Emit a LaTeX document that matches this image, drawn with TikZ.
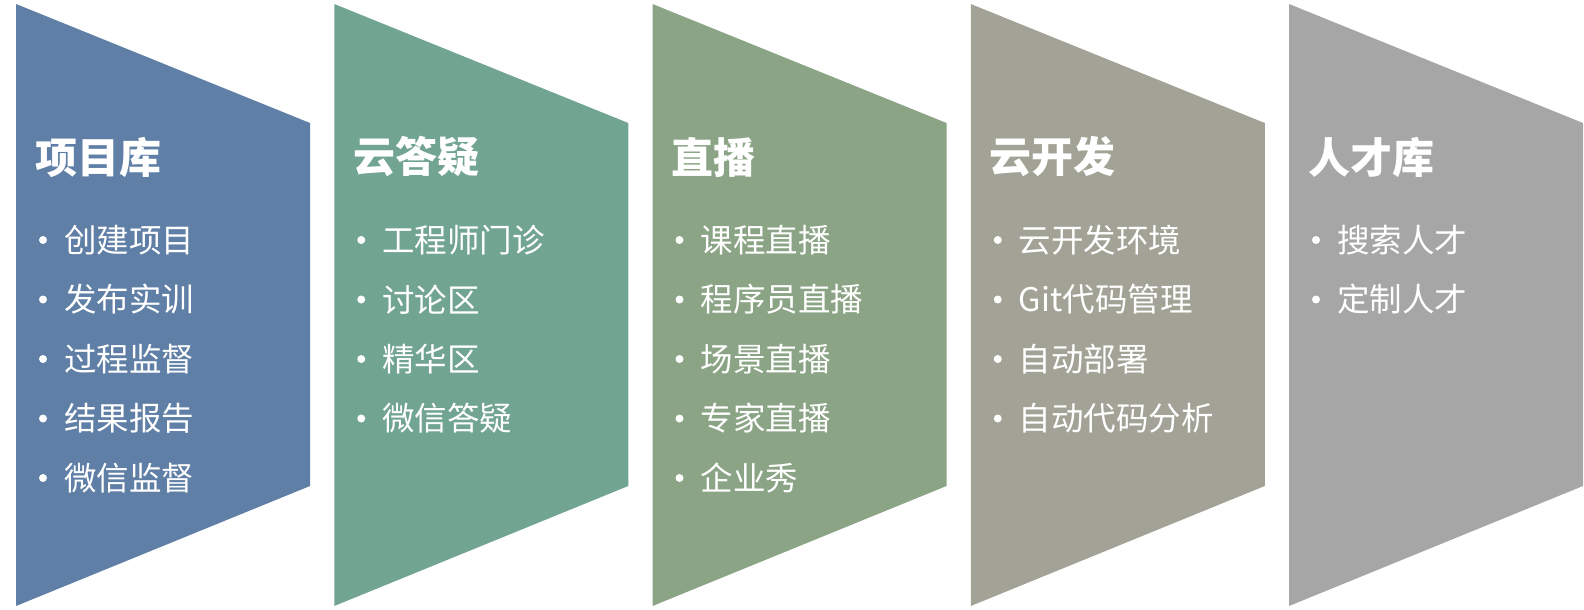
\documentclass[tikz,border=0pt]{standalone}
\usepackage{fontspec}
\setmainfont{Noto Sans CJK SC}
\definecolor{colA}{HTML}{5F7FA6}
\definecolor{colB}{HTML}{72A492}
\definecolor{colC}{HTML}{8BA485}
\definecolor{colD}{HTML}{A2A296}
\definecolor{colE}{HTML}{A6A6A6}
\tikzset{
  title/.style={anchor=west, inner sep=0pt, text=white, font=\fontsize{42}{44}\selectfont\bfseries},
  item/.style={anchor=west, inner sep=0pt, text=white, font=\fontsize{32.5}{34}\selectfont},
  dot/.style={circle, fill=white, inner sep=0pt, minimum size=8pt}
}
\begin{document}
\begin{tikzpicture}[x=1pt, y=-1pt, line join=round]
\def\w{294} \def\pitch{318.25}
\useasboundingbox (0,0) rectangle (1584,610);
\foreach \i/\col/\ttl/\items in {
  0/colA/项目库/{创建项目,发布实训,过程监督,结果报告,微信监督},
  1/colB/云答疑/{工程师门诊,讨论区,精华区,微信答疑},
  2/colC/直播/{课程直播,程序员直播,场景直播,专家直播,企业秀},
  3/colD/云开发/{云开发环境,Git代码管理,自动部署,自动代码分析},
  4/colE/人才库/{搜索人才,定制人才}}{
  \pgfmathsetmacro\xl{16+\i*\pitch}
  \pgfmathsetmacro\xr{\xl+\w}
  \fill[\col] (\xl,4) -- (\xr,123) -- (\xr,486) -- (\xl,606) -- cycle;
  \node[title] (t\i) at (\xl+19,157) {\ttl};
  \foreach \t [count=\k] in \items {
    \node[dot] (d\i-\k) at (\xl+27,{240+(\k-1)*59.5}) {};
    \node[item] (s\i-\k) at (\xl+48,{240+(\k-1)*59.5}) {\t};
  }
}
\end{tikzpicture}
\end{document}
